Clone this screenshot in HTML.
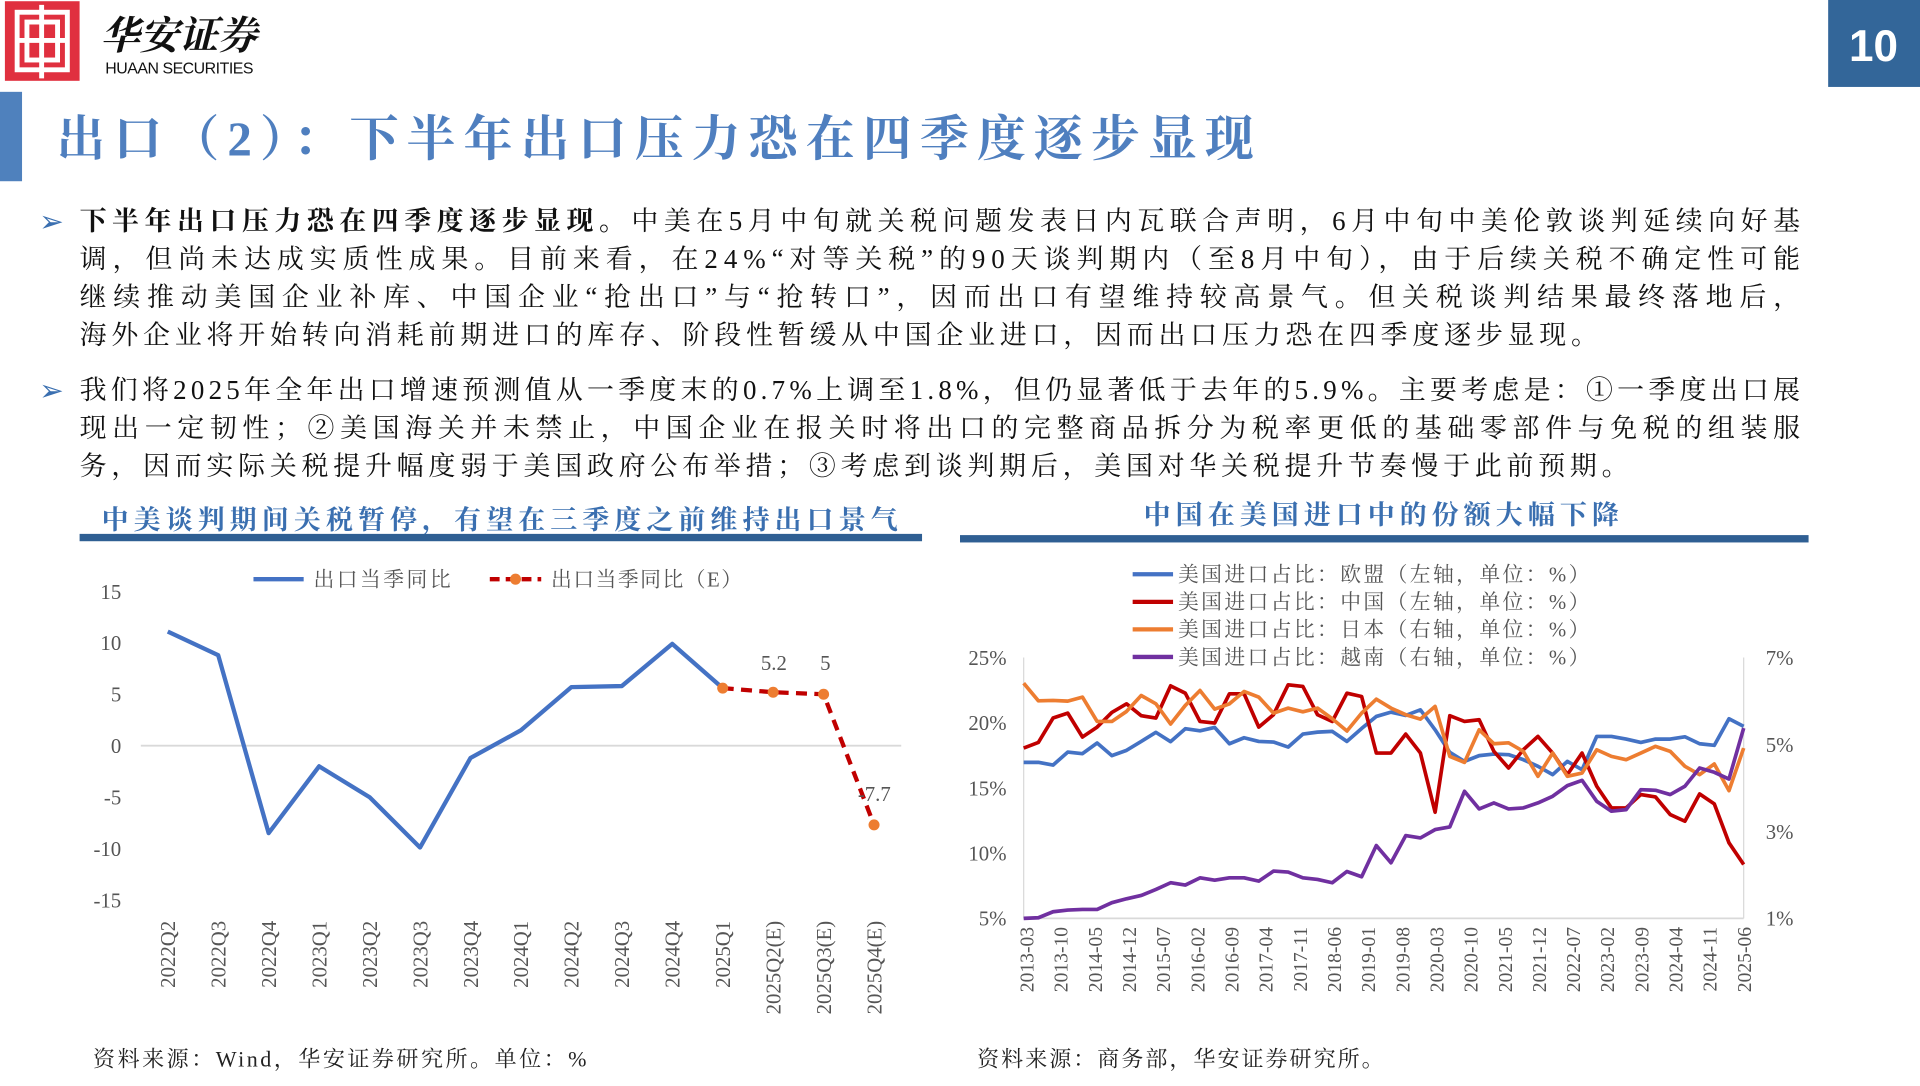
<!DOCTYPE html>
<html><head><meta charset="utf-8">
<style>
html,body{margin:0;padding:0;background:#fff;width:1920px;height:1080px;overflow:hidden}
#w{position:absolute;left:0;top:0;width:1568px;height:882px;transform:scale(1.22449);transform-origin:0 0}
svg text{font-family:"Liberation Serif","Noto Serif CJK SC",serif}
svg text.sans{font-family:"Liberation Sans",sans-serif}
</style></head><body>
<div id="w">
<svg id="s" width="1568" height="882" viewBox="0 0 1568 882" xmlns="http://www.w3.org/2000/svg">
<rect x="4" y="1" width="61" height="65" fill="#e0303f"/>
<g fill="none" stroke="#fff" stroke-width="4">
<rect x="14" y="10" width="41" height="47"/><line x1="34" y1="4" x2="34" y2="64"/><line x1="14" y1="33" x2="55" y2="33"/>
<rect x="22" y="18" width="25" height="31"/></g>
<text x="82" y="40" font-size="32" font-style="italic" font-weight="bold" fill="#111">华安证券</text>
<text class="sans" x="86" y="60" font-size="13" fill="#111" textLength="121">HUAAN SECURITIES</text>
<rect x="1493" y="0" width="75" height="71" fill="#336699"/>
<text class="sans" x="1530" y="50" font-size="36" fill="#fff" font-weight="bold" text-anchor="middle">10</text>
<rect x="0" y="75" width="18" height="73" fill="#4f81bd"/>
<text x="46" y="127" font-size="40" fill="#4f7fbf" font-weight="bold" textLength="978">出口（2）：下半年出口压力恐在四季度逐步显现</text>
<g font-size="22" fill="#111">
<text x="32" y="189" fill="#3a6fb0" font-size="24">➢</text>
<text x="65" y="188" textLength="1405" lengthAdjust="spacing"><tspan font-weight="bold">下半年出口压力恐在四季度逐步显现。</tspan>中美在5月中旬就关税问题发表日内瓦联合声明，6月中旬中美伦敦谈判延续向好基</text>
<text x="65" y="219" textLength="1405" lengthAdjust="spacing">调，但尚未达成实质性成果。目前来看，在24%“对等关税”的90天谈判期内（至8月中旬），由于后续关税不确定性可能</text>
<text x="65" y="250" textLength="1405" lengthAdjust="spacing">继续推动美国企业补库、中国企业“抢出口”与“抢转口”，因而出口有望维持较高景气。但关税谈判结果最终落地后，</text>
<text x="65" y="281" textLength="1240" lengthAdjust="spacing">海外企业将开始转向消耗前期进口的库存、阶段性暂缓从中国企业进口，因而出口压力恐在四季度逐步显现。</text>
<text x="32" y="327" fill="#3a6fb0" font-size="24">➢</text>
<text x="65" y="326" textLength="1405" lengthAdjust="spacing">我们将2025年全年出口增速预测值从一季度末的0.7%上调至1.8%，但仍显著低于去年的5.9%。主要考虑是：①一季度出口展</text>
<text x="65" y="357" textLength="1405" lengthAdjust="spacing">现出一定韧性；②美国海关并未禁止，中国企业在报关时将出口的完整商品拆分为税率更低的基础零部件与免税的组装服</text>
<text x="65" y="388" textLength="1265" lengthAdjust="spacing">务，因而实际关税提升幅度弱于美国政府公布举措；③考虑到谈判期后，美国对华关税提升节奏慢于此前预期。</text>
</g>
<text x="408" y="432" font-size="22" fill="#3a6fb0" font-weight="bold" text-anchor="middle" textLength="650">中美谈判期间关税暂停，有望在三季度之前维持出口景气</text>
<rect x="65" y="436" width="688" height="6" fill="#2f5f93"/>
<text x="1128" y="428" font-size="22" fill="#3a6fb0" font-weight="bold" text-anchor="middle" textLength="388">中国在美国进口中的份额大幅下降</text>
<rect x="784" y="437" width="693" height="6" fill="#2f5f93"/>
<g id="L"></g>
<g id="R"></g>
<text x="76" y="871" font-size="18" fill="#222" textLength="403" lengthAdjust="spacing">资料来源：Wind，华安证券研究所。单位：%</text>
<text x="798" y="871" font-size="18" fill="#222" textLength="332" lengthAdjust="spacing">资料来源：商务部，华安证券研究所。</text>
</svg>
</div>
<script>
const NS="http://www.w3.org/2000/svg";
function el(p,t,a,txt){const e=document.createElementNS(NS,t);for(const k in a)e.setAttribute(k,a[k]);if(txt!=null)e.textContent=txt;p.appendChild(e);return e;}
const L=document.getElementById('L');
const y0=609,ys=42/5;
for(let v=-15;v<=15;v+=5){el(L,'text',{x:99,y:y0-v*ys+6,'font-size':17,fill:'#555','text-anchor':'end'},v);}
el(L,'line',{x1:115,y1:609,x2:736,y2:609,stroke:'#d9d9d9','stroke-width':1.5});
const lab=['2022Q2','2022Q3','2022Q4','2023Q1','2023Q2','2023Q3','2023Q4','2024Q1','2024Q2','2024Q3','2024Q4','2025Q1','2025Q2(E)','2025Q3(E)','2025Q4(E)'];
const lx=i=>137+i*41.2;
lab.forEach((t,i)=>{el(L,'text',{transform:`translate(${lx(i)+6},752) rotate(-90)`,'font-size':17,fill:'#555','text-anchor':'end'},t);});
const act=[11.1,8.8,-8.5,-2,-5,-9.9,-1.2,1.5,5.7,5.8,9.9,5.6];
el(L,'polyline',{points:act.map((v,i)=>lx(i)+','+(y0-v*ys)).join(' '),fill:'none',stroke:'#4472c4','stroke-width':3.5,'stroke-linejoin':'round'});
const est=[[11,5.6],[12,5.2],[13,5],[14,-7.7]];
el(L,'polyline',{points:est.map(p=>lx(p[0])+','+(y0-p[1]*ys)).join(' '),fill:'none',stroke:'#c00000','stroke-width':3.5,'stroke-dasharray':'9,6'});
est.forEach(p=>el(L,'circle',{cx:lx(p[0]),cy:y0-p[1]*ys,r:4.5,fill:'#ed7d31'}));
el(L,'text',{x:632,y:547,'font-size':17,fill:'#555','text-anchor':'middle'},'5.2');
el(L,'text',{x:674,y:547,'font-size':17,fill:'#555','text-anchor':'middle'},'5');
el(L,'text',{x:714,y:654,'font-size':17,fill:'#555','text-anchor':'middle'},'-7.7');
el(L,'line',{x1:207,y1:473,x2:248,y2:473,stroke:'#4472c4','stroke-width':3.5});
el(L,'text',{x:256,y:479,'font-size':17,fill:'#555',textLength:112,lengthAdjust:'spacing'},'出口当季同比');
el(L,'line',{x1:400,y1:473,x2:442,y2:473,stroke:'#c00000','stroke-width':3.5,'stroke-dasharray':'8,5'});
el(L,'circle',{cx:421,cy:473,r:4.5,fill:'#ed7d31'});
el(L,'text',{x:450,y:479,'font-size':17,fill:'#555',textLength:156,lengthAdjust:'spacing'},'出口当季同比（E）');
const R=document.getElementById('R');
['25%','20%','15%','10%','5%'].forEach((t,i)=>el(R,'text',{x:822,y:543+i*53.25,'font-size':17,fill:'#555','text-anchor':'end'},t));
['7%','5%','3%','1%'].forEach((t,i)=>el(R,'text',{x:1442,y:543+i*71,'font-size':17,fill:'#555'},t));
el(R,'line',{x1:836,y1:750,x2:1424,y2:750,stroke:'#d9d9d9','stroke-width':1.5});
el(R,'line',{x1:836,y1:537,x2:836,y2:750,stroke:'#d9d9d9','stroke-width':1});
el(R,'line',{x1:1424,y1:537,x2:1424,y2:750,stroke:'#d9d9d9','stroke-width':1});
const rl=['2013-03','2013-10','2014-05','2014-12','2015-07','2016-02','2016-09','2017-04','2017-11','2018-06','2019-01','2019-08','2020-03','2020-10','2021-05','2021-12','2022-07','2023-02','2023-09','2024-04','2024-11','2025-06'];
rl.forEach((t,i)=>el(R,'text',{transform:`translate(${838+i*27.9+6},757) rotate(-90)`,'font-size':16,fill:'#555','text-anchor':'end'},t));
const X=i=>836+(i*27.96)*(588/1370), Y=v=>537+(v-353)*(213/784);
const ser=[
['#4472c4',[668,668,676,637,642,610,648,632,605,578,606,567,573,563,612,594,605,607,622,583,577,575,605,566,530,517,527,510,570,638,665,648,643,645,660,680,705,665,690,590,590,598,608,598,598,591,612,617,537,560]],
['#c00000',[625,608,535,520,592,562,518,492,528,535,438,460,545,550,462,462,562,525,435,440,525,545,460,470,640,640,583,640,818,528,545,540,635,685,630,590,640,705,640,740,805,805,765,772,825,845,763,793,910,975]],
['#ed7d31',[430,483,482,484,472,545,545,515,467,492,553,497,452,508,492,455,472,520,505,516,505,537,574,520,478,505,525,538,500,650,668,570,612,609,635,710,640,710,700,630,650,660,640,620,635,680,705,673,753,625]],
['#7030a0',[1137,1135,1117,1112,1110,1110,1090,1078,1068,1050,1030,1037,1015,1022,1015,1015,1025,995,998,1015,1020,1030,996,1012,918,970,888,895,870,862,755,808,790,808,805,790,770,738,722,785,815,810,750,752,765,740,685,698,718,565]]];
ser.forEach(s=>el(R,'polyline',{points:s[1].map((v,i)=>X(i).toFixed(1)+','+Y(v).toFixed(1)).join(' '),fill:'none',stroke:s[0],'stroke-width':3,'stroke-linejoin':'round'}));
const lg=[['#4472c4','美国进口占比：欧盟（左轴，单位：%）'],['#c00000','美国进口占比：中国（左轴，单位：%）'],['#ed7d31','美国进口占比：日本（右轴，单位：%）'],['#7030a0','美国进口占比：越南（右轴，单位：%）']];
lg.forEach((g,i)=>{const y=469+i*22.5;el(R,'line',{x1:925,y1:y,x2:958,y2:y,stroke:g[0],'stroke-width':3.5});el(R,'text',{x:962,y:y+6,'font-size':17,fill:'#555',textLength:336,lengthAdjust:'spacing'},g[1]);});
</script>
</body></html>
